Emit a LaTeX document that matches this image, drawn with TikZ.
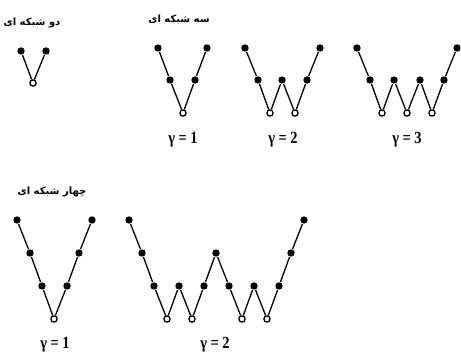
\documentclass[tikz,border=0pt]{standalone}
\usepackage{fontspec}
\setmainfont{Liberation Serif}
\newfontfamily\gamfont[FakeStretch=0.85]{Liberation Serif}
\newfontfamily\farsi[Script=Arabic]{DejaVu Sans}
\TeXXeTstate=1

\begin{document}
\begin{tikzpicture}[x=1pt, y=-1pt, line width=1.3pt,
  dot/.style={circle, fill, inner sep=0pt, minimum size=7.4pt},
  hole/.style={circle, draw, line width=1.3pt, inner sep=0pt, minimum size=6.2pt},
  title/.style={font=\farsi\bfseries\fontsize{10}{12}\selectfont},
  gam/.style={font=\gamfont\bfseries\fontsize{17}{20}\selectfont}]
  \useasboundingbox (0,0) rectangle (461,354);
  % titles
  \node[title] (t2) at (32,23)  {\beginR دو شبکه ای\endR};
  \node[title] (t3) at (179,20) {\beginR سه شبکه ای\endR};
  \node[title] (t4) at (52,192) {\beginR چهار شبکه ای\endR};
  % two-level chain
  \foreach \s/\x/\y [count=\i] in {dot/21/51, hole/33/83, dot/46/51}
    \node[\s] (a\i) at (\x,\y) {};
  \draw (a1) -- (a2) -- (a3);
  % three-level chains: gamma = 1, 2, 3
  \foreach \s/\x/\y [count=\i] in {dot/158/48, dot/170/80, hole/183/113,
      dot/195/80, dot/207/48}
    \node[\s] (b\i) at (\x,\y) {};
  \foreach \i [count=\j from 2] in {1,...,4} \draw (b\i) -- (b\j);
  \foreach \s/\x/\y [count=\i] in {dot/245/48, dot/258/80, hole/270/113,
      dot/282/80, hole/295/113, dot/307/80, dot/320/48}
    \node[\s] (c\i) at (\x,\y) {};
  \foreach \i [count=\j from 2] in {1,...,6} \draw (c\i) -- (c\j);
  \foreach \s/\x/\y [count=\i] in {dot/357/48, dot/370/80, hole/382/113,
      dot/394/80, hole/407/113, dot/420/80, hole/432/113, dot/444/80,
      dot/457/48}
    \node[\s] (d\i) at (\x,\y) {};
  \foreach \i [count=\j from 2] in {1,...,8} \draw (d\i) -- (d\j);
  \node[gam] (gb) at (183,140) {γ = 1};
  \node[gam] (gc) at (283,140) {γ = 2};
  \node[gam] (gd) at (407,140) {γ = 3};
  % four-level chains: gamma = 1, 2
  \foreach \s/\x/\y [count=\i] in {dot/17/220, dot/30/253, dot/42/286,
      hole/54/319, dot/67/286, dot/79/253, dot/92/220}
    \node[\s] (e\i) at (\x,\y) {};
  \foreach \i [count=\j from 2] in {1,...,6} \draw (e\i) -- (e\j);
  \foreach \s/\x/\y [count=\i] in {dot/129/220, dot/142/253, dot/154/286,
      hole/167/319, dot/179/286, hole/192/319, dot/204/286, dot/216/253,
      dot/229/286, hole/242/319, dot/254/286, hole/267/319, dot/279/286,
      dot/291/253, dot/304/220}
    \node[\s] (f\i) at (\x,\y) {};
  \foreach \i [count=\j from 2] in {1,...,14} \draw (f\i) -- (f\j);
  \node[gam] (ge) at (55,345)  {γ = 1};
  \node[gam] (gf) at (215,345) {γ = 2};
\end{tikzpicture}
\end{document}
